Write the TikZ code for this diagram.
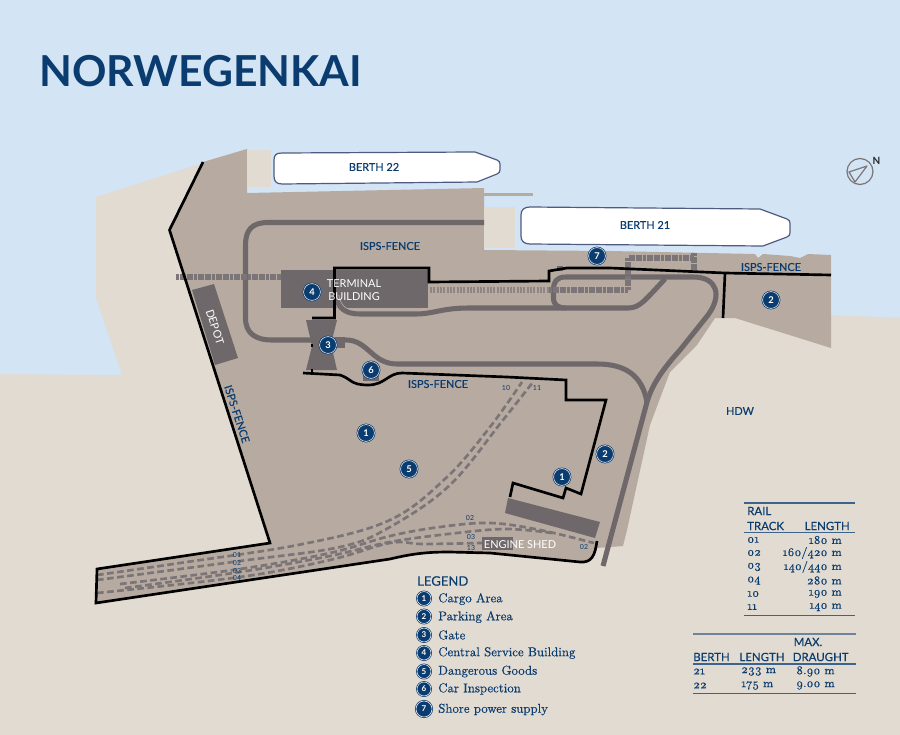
\documentclass[tikz,border=0pt]{standalone}
\usepackage{fontspec}
\setsansfont{Lato}
\newfontfamily\labelfont{Lato}[FakeBold=0.25]
\newfontfamily\tablefont{Latin Modern Roman}[Numbers=OldStyle, FakeBold=0.3]
\usetikzlibrary{positioning}

\definecolor{waterblue}{HTML}{D3E4F5}
\definecolor{landbeige}{HTML}{E2DBD1}
\definecolor{quaytaupe}{HTML}{B7ABA1}
\definecolor{roadgrey}{HTML}{6F686B}
\definecolor{railgrey}{HTML}{7C7577}
\definecolor{textblue}{HTML}{0B3C6F}
\definecolor{shipedge}{HTML}{4F5A80}
\definecolor{rulegrey}{HTML}{6F8498}

\tikzset{
  fence/.style={draw=black, line width=2pt, line join=miter},
  road/.style={draw=roadgrey, line width=3.8pt, line join=round},
  rail/.style={draw=railgrey, line width=3.8pt, dash pattern=on 2.2pt off 0.5pt},
  track/.style={draw=railgrey, line width=2pt, dash pattern=on 5pt off 2.6pt},
  ship/.style={draw=shipedge, fill=white, line width=0.9pt},
  darkblock/.style={fill=roadgrey, draw=none},
  maplabel/.style={font=\labelfont\fontsize{8.2}{9}\selectfont, text=textblue, inner sep=0pt},
  whitelabel/.style={font=\sffamily\fontsize{8.2}{9}\selectfont, text=white, inner sep=0pt},
  tracklabel/.style={font=\sffamily\fontsize{5.2}{6}\selectfont, text=textblue, inner sep=0pt},
  headlabel/.style={font=\labelfont\fontsize{8.6}{9}\selectfont, text=textblue, inner sep=0pt},
  rowlabel/.style={font=\tablefont\fontsize{8.9}{9}\selectfont, text=textblue, inner sep=0pt},
  legendlabel/.style={font=\tablefont\fontsize{9.6}{10}\selectfont, text=textblue, inner sep=0pt, anchor=west},
  marker/.style={circle, fill=textblue, draw=white, line width=0.4pt, minimum size=12.6pt, inner sep=0pt,
    preaction={draw=textblue, line width=1.5pt},
    font=\sffamily\bfseries\fontsize{7}{8}\selectfont, text=white},
  legendmarker/.style={marker, minimum size=10.4pt, font=\sffamily\bfseries\fontsize{6}{7}\selectfont},
  tablerule/.style={draw=textblue!80!white, line width=0.8pt},
}

\begin{document}
\begin{tikzpicture}[x=0.75pt, y=-0.75pt]

\useasboundingbox (0, 0) rectangle (900, 735);

\def \xrail{747}
\def \xraillength{842}
\def \xberth{693}
\def \xberthlength{741}
\def \xdraught{796}
\def \xlegend{438}
\def \xlegendmark{424}

% water and land
\fill[waterblue] (0, 0) rectangle (900, 735);
\fill[landbeige] (96, 197) -- (247, 149) -- (247, 260) -- (700, 260) -- (831, 315) -- (900, 318)
  -- (900, 735) -- (0, 735) -- (0, 374) -- (122, 375) -- (96, 298) -- cycle;
\fill[waterblue] (247, 193) -- (247, 160) -- (540, 160) -- (540, 262) -- (247, 262) -- cycle;
\fill[waterblue] (540, 240) rectangle (835, 300);
\fill[landbeige] (715, 300) rectangle (831, 320);

% quay area
\fill[quaytaupe] (203, 162) -- (247, 149) -- (247, 193) -- (484, 188) -- (484, 250) -- (610, 251)
  -- (755, 254) -- (758, 258) -- (763, 254) -- (790, 256) -- (800, 258) -- (808, 254) -- (831, 255)
  -- (831, 348) -- (735, 318) -- (715, 318) -- (697, 345) -- (670, 372) -- (650, 425) -- (627, 530)
  -- (623, 546) -- (597, 548) -- (593, 557) -- (587, 562) -- (490, 553) -- (433, 552) -- (390, 559)
  -- (96, 603) -- (96, 569) -- (270, 543) -- (169, 230) -- cycle;
\fill[quaytaupe] (484, 193) rectangle (533, 196);

% quay aprons at the ship ends
\fill[landbeige] (247, 150) rectangle (271, 187);
\fill[landbeige] (484, 207) rectangle (515, 248);

% ships
\draw[ship] (282, 153) -- (475, 152) -- (497, 160) .. controls (499, 161) and (500, 162) .. (500, 164)
  -- (500, 170) .. controls (500, 172) and (499, 173) .. (497, 174) -- (477, 182) -- (282, 184)
  .. controls (276, 184) and (274, 181) .. (274, 176) -- (274, 160) .. controls (274, 155) and (276, 153) .. (282, 153) -- cycle;
\draw[ship] (530, 207) -- (760, 209) -- (787, 219) .. controls (789, 220) and (790, 221) .. (790, 223)
  -- (790, 233) .. controls (790, 235) and (789, 236) .. (787, 237) -- (763, 246) -- (530, 244)
  .. controls (524, 244) and (521, 241) .. (521, 236) -- (521, 215) .. controls (521, 210) and (524, 207) .. (530, 207) -- cycle;

% roads
\draw[road] (484, 222.5) -- (268, 222.5) .. controls (252, 222.5) and (245.5, 230) .. (245.5, 245)
  -- (245.5, 318) .. controls (245.5, 333) and (255, 340) .. (272, 340) -- (346, 340)
  .. controls (368, 340) and (372, 364) .. (397, 364) -- (597, 364)
  .. controls (625, 364) and (642, 375) .. (647, 402);
\draw[road] (603, 566) -- (647, 402) .. controls (652, 385) and (662, 370) .. (680, 350)
  -- (708, 315) .. controls (722, 296) and (718, 277) .. (693, 277) -- (566, 277)
  .. controls (556, 277) and (553.5, 282) .. (553.5, 290) -- (553.5, 298)
  .. controls (553.5, 305) and (558, 308) .. (566, 308) -- (628, 308)
  .. controls (640, 308) and (645, 300) .. (665, 279);

% blocks
\fill[darkblock] (281, 270) rectangle (428, 308);
\fill[darkblock] (306, 320) -- (337, 320) -- (331, 344) -- (337, 370) -- (306, 370) -- (312, 346) -- cycle;
\fill[darkblock] (335, 337) rectangle (345, 348);
\fill[darkblock] (363, 370) rectangle (379, 381);
\fill[darkblock] (192, 290) -- (214, 284) -- (238, 358) -- (215, 365) -- cycle;
\fill[darkblock] (508, 498) -- (600, 522) -- (595, 538) -- (505, 513) -- cycle;
\fill[darkblock] (482, 537) rectangle (513, 550);
\fill[darkblock] (557, 266) rectangle (563, 271);

% road below the terminal building
\draw[quaytaupe, line width=5pt] (336, 296) .. controls (338, 308) and (345, 314) .. (360, 314)
  -- (415, 314) .. controls (435, 314) and (440, 308) .. (470, 308);
\draw[road] (336, 296) .. controls (338, 308) and (345, 314) .. (360, 314)
  -- (415, 314) .. controls (435, 314) and (440, 308) .. (470, 308) -- (566, 308);

% rails
\draw[rail] (176, 277) -- (281, 277);
\draw[rail, draw=railgrey!70!quaytaupe, dash pattern=on 1.5pt off 1pt] (430, 290) -- (549, 290);
\draw[rail] (549, 290) -- (628, 290) -- (628, 258) -- (694, 258);
\draw[rail] (694, 253) -- (694, 270);

% railway tracks
\draw[track] plot[smooth, tension=0.6] coordinates {(97, 575) (180, 563) (303, 544) (390, 520) (447, 477) (490, 427) (522, 382)};
\draw[track] plot[smooth, tension=0.6] coordinates {(97, 580) (240, 561) (340, 547) (390, 527) (450, 485) (503, 420) (533, 382)};
\draw[track] plot[smooth, tension=0.6] coordinates {(120, 584) (240, 569) (330, 553) (390, 536) (440, 527) (490, 523) (540, 530) (594, 543)};
\draw[track] plot[smooth, tension=0.6] coordinates {(125, 588) (240, 572) (330, 556) (390, 542) (457, 533) (507, 529) (552, 533)};
\draw[track] plot[smooth, tension=0.6] coordinates {(97, 593) (240, 577) (330, 560) (390, 543) (423, 544) (482, 543)};

% fences
\draw[fence] (203, 162) -- (169.5, 230) -- (270, 543) -- (97, 569) -- (96, 603) -- (390, 559)
  .. controls (415, 553) and (430, 552) .. (450, 552) -- (490, 553) -- (580, 562)
  .. controls (592, 563) and (595, 555) .. (597, 541);
\draw[fence] (303, 373) -- (340, 375) .. controls (352, 379) and (350, 385) .. (368, 385)
  .. controls (385, 385) and (388, 373) .. (402, 373) -- (507, 377) -- (566, 380) -- (566, 400)
  -- (606, 400) -- (581, 494) -- (566, 488) -- (563, 498) -- (513, 483) -- (510, 497);
\draw[fence] (312, 318) -- (334.5, 318) -- (334.5, 268) -- (429, 268) -- (429, 282) -- (549, 281)
  -- (549, 271) -- (567, 268) -- (610, 268) -- (725, 273) -- (831, 275);
\draw[fence] (725, 273) -- (723, 318);
\draw[fence] (312, 344) -- (312, 347);
\draw[fence] (312, 369) -- (312, 373);

% area labels
\node[maplabel] (fencetop) at (390, 246) {ISPS-FENCE};
\node[maplabel] (fencemid) at (438, 384) {ISPS-FENCE};
\node[maplabel] (fenceright) at (771, 267) {ISPS-FENCE};
\node[maplabel, rotate=-72] (fenceleft) at (237, 414) {ISPS-FENCE};
\node[maplabel] (berthtwotwo) at (374, 167) {BERTH 22};
\node[maplabel] (berthtwoone) at (645, 225) {BERTH 21};
\node[maplabel] (hdw) at (740, 411) {HDW};
\node[whitelabel] (terminal) at (354, 284) {TERMINAL};
\node[whitelabel] (building) at (354, 297) {BUILDING};
\node[whitelabel, rotate=-72] (depot) at (215, 327) {DEPOT};
\node[whitelabel] (shed) at (520, 545) {ENGINE SHED};

% track numbers
\node[tracklabel] (strip01) at (237, 555) {01};
\node[tracklabel] (strip02) at (237, 563) {02};
\node[tracklabel] (strip03) at (237, 571) {03};
\node[tracklabel] (strip04) at (237, 578) {04};
\node[tracklabel] (track10) at (506, 388) {10};
\node[tracklabel] (track11) at (537, 388) {11};
\node[tracklabel] (track02a) at (470, 518) {02};
\node[tracklabel] (track03) at (471, 537) {03};
\node[tracklabel] (track13) at (471, 548) {13};
\node[tracklabel] (track02b) at (584, 547) {02};

% numbered markers on the map
\node[marker] (markcargoa) at (366, 433) {1};
\node[marker] (markcargob) at (562, 477) {1};
\node[marker] (markparka) at (605, 454) {2};
\node[marker] (markparkb) at (771, 300) {2};
\node[marker] (markgate) at (328, 345) {3};
\node[marker] (markbuilding) at (312, 292) {4};
\node[marker] (markgoods) at (409, 469) {5};
\node[marker] (markcar) at (371, 370) {6};
\node[marker] (markshore) at (597, 256) {7};

% compass
\draw[draw=railgrey, line width=0.9pt] (860, 171.5) circle (13);
\draw[draw=railgrey, line width=0.9pt, line join=round] (867, 166) -- (849, 172) -- (855, 182) -- cycle;
\node[font=\sffamily\bfseries\fontsize{7.5}{8}\selectfont, text=black!85, inner sep=0pt] (north) at (876.5, 161) {N};

% title
\node[font=\sffamily\bfseries\fontsize{32}{36}\selectfont, text=textblue, inner sep=0pt, anchor=west] (title) at (39, 71.5) {NORWEGENKAI};

% legend
\node[font=\labelfont\fontsize{9.8}{10}\selectfont, text=textblue, inner sep=0pt, anchor=west] (legend) at (417, 581) {LEGEND};
\node[legendmarker] (legmarka) at (\xlegendmark, 598.5) {1};
\node[legendmarker] (legmarkb) at (\xlegendmark, 616.5) {2};
\node[legendmarker] (legmarkc) at (\xlegendmark, 635) {3};
\node[legendmarker] (legmarkd) at (\xlegendmark, 653) {4};
\node[legendmarker] (legmarke) at (\xlegendmark, 671.5) {5};
\node[legendmarker] (legmarkf) at (\xlegendmark, 689) {6};
\node[legendmarker, minimum size=12pt] (legmarkg) at (\xlegendmark, 709) {7};
\node[legendlabel] (legtexta) at (\xlegend, 599) {Cargo Area};
\node[legendlabel] (legtextb) at (\xlegend, 617) {Parking Area};
\node[legendlabel] (legtextc) at (\xlegend, 635) {Gate};
\node[legendlabel] (legtextd) at (\xlegend, 653) {Central Service Building};
\node[legendlabel] (legtexte) at (\xlegend, 671.5) {Dangerous Goods};
\node[legendlabel] (legtextf) at (\xlegend, 689) {Car Inspection};
\node[legendlabel] (legtextg) at (\xlegend, 709.5) {Shore power supply};

% rail table
\draw[tablerule] (744, 503) -- (855, 503);
\draw[tablerule] (744, 532.5) -- (855, 532.5);
\draw[tablerule] (744, 615.5) -- (855, 615.5);
\node[headlabel, anchor=west] (railhead) at (\xrail, 511) {RAIL};
\node[headlabel, anchor=west] (trackhead) at (\xrail, 526) {TRACK};
\node[headlabel, anchor=east] (lengthhead) at (850, 526) {LENGTH};
\node[rowlabel, anchor=west] (rowa) at (\xrail, 540) {01};
\node[rowlabel, anchor=west] (rowb) at (\xrail, 553) {02};
\node[rowlabel, anchor=west] (rowc) at (\xrail, 567) {03};
\node[rowlabel, anchor=west] (rowd) at (\xrail, 580.5) {04};
\node[rowlabel, anchor=west] (rowe) at (\xrail, 594) {10};
\node[rowlabel, anchor=west] (rowf) at (\xrail, 607) {11};
\node[rowlabel, anchor=east] (lena) at (\xraillength, 540) {180 m};
\node[rowlabel, anchor=east] (lenb) at (\xraillength, 553) {160/420 m};
\node[rowlabel, anchor=east] (lenc) at (\xraillength, 567) {140/440 m};
\node[rowlabel, anchor=east] (lend) at (\xraillength, 580.5) {280 m};
\node[rowlabel, anchor=east] (lene) at (\xraillength, 594) {190 m};
\node[rowlabel, anchor=east] (lenf) at (\xraillength, 607) {140 m};

% berth table
\draw[draw=rulegrey, line width=1pt] (693, 634) -- (856, 634);
\draw[tablerule] (693, 664) -- (856, 664);
\draw[tablerule] (693, 693.5) -- (856, 693.5);
\node[headlabel] (maxhead) at (808, 642) {MAX.};
\node[headlabel, anchor=west] (berthhead) at (\xberth, 657) {BERTH};
\node[headlabel] (blenhead) at (762, 657) {LENGTH};
\node[headlabel, anchor=west] (draughthead) at (792.5, 657) {DRAUGHT};
\node[rowlabel, anchor=west] (bertha) at (\xberth, 671.5) {21};
\node[rowlabel, anchor=west] (berthb) at (\xberth, 685.5) {22};
\node[rowlabel, anchor=west] (blena) at (\xberthlength, 671.5) {233 m};
\node[rowlabel, anchor=west] (blenb) at (\xberthlength, 685.5) {175 m};
\node[rowlabel, anchor=west] (drafta) at (\xdraught, 671.5) {8.90 m};
\node[rowlabel, anchor=west] (draftb) at (\xdraught, 685.5) {9.00 m};

\end{tikzpicture}
\end{document}
